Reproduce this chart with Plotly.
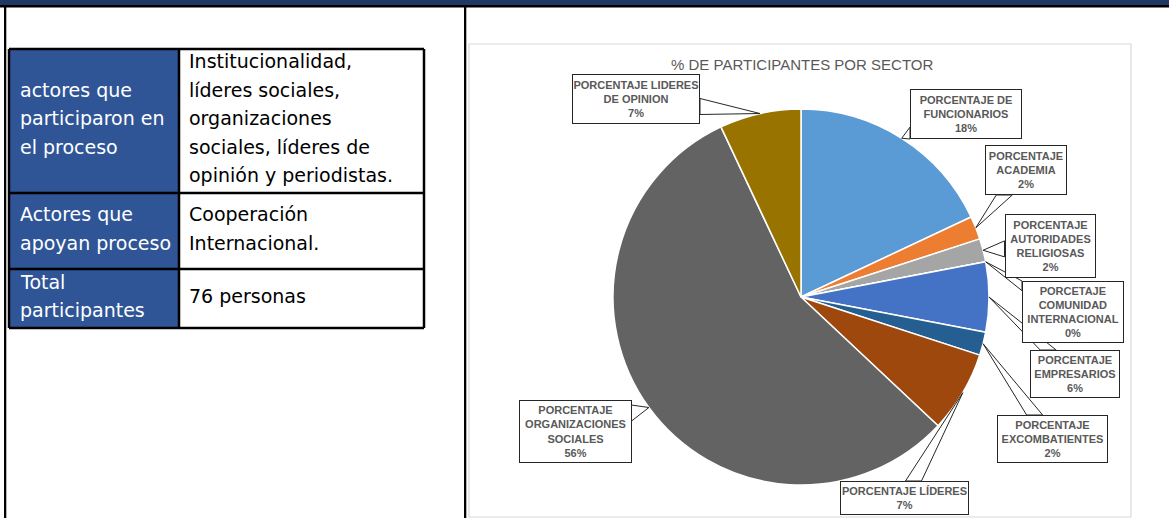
import math
import plotly.graph_objects as go

W, H = 1169, 518

# ---------------- data ----------------
sector_labels = [
    ["PORCENTAJE DE", "FUNCIONARIOS"],
    ["PORCENTAJE", "ACADEMIA"],
    ["PORCENTAJE", "AUTORIDADES", "RELIGIOSAS"],
    ["PORCETAJE", "COMUNIDAD", "INTERNACIONAL"],
    ["PORCENTAJE", "EMPRESARIOS"],
    ["PORCENTAJE", "EXCOMBATIENTES"],
    ["PORCENTAJE LÍDERES"],
    ["PORCENTAJE", "ORGANIZACIONES", "SOCIALES"],
    ["PORCENTAJE LIDERES", "DE OPINION"],
]
sector_values = [18, 2, 2, 0, 6, 2, 7, 56, 7]
chart_title = "% DE PARTICIPANTES POR SECTOR"

table_left = [
    ["actores que", "participaron en", "el proceso"],
    ["Actores que", "apoyan proceso"],
    ["Total", "participantes"],
]
table_right = [
    ["Institucionalidad,", "líderes sociales,", "organizaciones", "sociales, líderes de", "opinión y periodistas."],
    ["Cooperación", "Internacional."],
    ["76 personas"],
]

# ---------------- styles / layout ----------------
slice_colors = ["#5B9BD5", "#ED7D31", "#A5A5A5", "#FFC000", "#4472C4",
                "#255E91", "#9E480E", "#636363", "#997300"]
# callout boxes: center x, center y, width, height (pixels)
box_geom = [
    (966, 114, 112, 50),
    (1026, 170, 82, 50),
    (1050, 246, 91, 64),
    (1073, 312, 102, 62),
    (1075, 374, 90, 48),
    (1052, 439, 111, 48),
    (904, 498, 129, 34),
    (575, 431, 113, 63),
    (636, 99, 128, 50),
]
CX, CY, R = 801, 297, 188

def px(x):
    return x / W

def py(y):
    return 1 - y / H

LABEL_FONT = "Liberation Sans Narrow, Arial Narrow, Liberation Sans, sans-serif"
TABLE_FONT = "DejaVu Sans, Verdana, sans-serif"

fig = go.Figure()
fig.add_trace(go.Pie(
    values=sector_values,
    labels=[" ".join(l) for l in sector_labels],
    marker=dict(colors=slice_colors, line=dict(color="white", width=1.5)),
    sort=False, direction="clockwise", rotation=0,
    textinfo="none", showlegend=False,
    domain=dict(x=[px(CX - R), px(CX + R)], y=[py(CY + R), py(CY - R)]),
))

shapes = []
annotations = []

# page frame
shapes.append(dict(type="rect", xref="paper", yref="paper", x0=0, x1=1, y0=py(0), y1=py(5),
                   fillcolor="#1F3864", line=dict(width=0), layer="below"))
shapes.append(dict(type="rect", xref="paper", yref="paper", x0=0, x1=1, y0=py(5), y1=py(7.5),
                   fillcolor="black", line=dict(width=0), layer="below"))
for xl in (4, 464):
    shapes.append(dict(type="rect", xref="paper", yref="paper", x0=px(xl), x1=px(xl + 2.3),
                       y0=0, y1=py(5), fillcolor="black", line=dict(width=0), layer="below"))
# chart frame
shapes.append(dict(type="rect", xref="paper", yref="paper", x0=px(469), x1=px(1131),
                   y0=py(517), y1=py(44), fillcolor="white",
                   line=dict(color="#D9D9D9", width=1.2), layer="below"))

# table
TX0, TX1, TXM = 9, 424, 179
row_edges = [49, 193, 269, 328]
shapes.append(dict(type="rect", xref="paper", yref="paper", x0=px(TX0), x1=px(TXM),
                   y0=py(row_edges[-1]), y1=py(row_edges[0]), fillcolor="#2F5597",
                   line=dict(width=0), layer="above"))
for ye in row_edges:
    shapes.append(dict(type="line", xref="paper", yref="paper", x0=px(TX0), x1=px(TX1),
                       y0=py(ye), y1=py(ye), line=dict(color="black", width=2.5), layer="above"))
for xe in (TX0, TXM, TX1):
    shapes.append(dict(type="line", xref="paper", yref="paper", x0=px(xe), x1=px(xe),
                       y0=py(row_edges[0]), y1=py(row_edges[-1]),
                       line=dict(color="black", width=2.5), layer="above"))

left_line_y = [[90, 118, 147], [214, 243], [282, 310]]
right_line_y = [[61, 90, 118, 147, 175], [214, 243], [296]]
for r in range(3):
    for txt, yy in zip(table_left[r], left_line_y[r]):
        annotations.append(dict(x=px(18), y=py(yy), xref="paper", yref="paper", text=txt,
                                showarrow=False, xanchor="left", yanchor="middle",
                                font=dict(family=TABLE_FONT, size=19, color="white")))
    for txt, yy in zip(table_right[r], right_line_y[r]):
        annotations.append(dict(x=px(187), y=py(yy), xref="paper", yref="paper", text=txt,
                                showarrow=False, xanchor="left", yanchor="middle",
                                font=dict(family=TABLE_FONT, size=19, color="black")))

# chart title
annotations.append(dict(x=px(802), y=py(65), xref="paper", yref="paper", text=chart_title,
                        showarrow=False, xanchor="center", yanchor="middle",
                        font=dict(family=LABEL_FONT, size=15, color="#595959")))

# callouts
total = sum(sector_values)
cum = 0.0
for i, v in enumerate(sector_values):
    mid = (cum + v / 2) / total
    cum += v
    th = 2 * math.pi * mid
    tx = CX + R * math.sin(th)
    ty = CY - R * math.cos(th)
    bx, by, bw, bh = box_geom[i]
    dx, dy = tx - bx, ty - by
    hw, hh = bw / 2, bh / 2
    tv = hw / abs(dx) if dx != 0 else 1e9
    th_ = hh / abs(dy) if dy != 0 else 1e9
    k = 8
    if tv < th_:
        ex, ey = bx + tv * dx, by + tv * dy
        ey1 = max(by - hh, min(by + hh, ey - k))
        ey2 = max(by - hh, min(by + hh, ey + k))
        b1, b2 = (ex, ey1), (ex, ey2)
    else:
        ex, ey = bx + th_ * dx, by + th_ * dy
        ex1 = max(bx - hw, min(bx + hw, ex - k))
        ex2 = max(bx - hw, min(bx + hw, ex + k))
        b1, b2 = (ex1, ey), (ex2, ey)
    path = "M {:.5f} {:.5f} L {:.5f} {:.5f} L {:.5f} {:.5f} Z".format(
        px(b1[0]), py(b1[1]), px(tx), py(ty), px(b2[0]), py(b2[1]))
    shapes.append(dict(type="path", xref="paper", yref="paper", path=path,
                       fillcolor="white", line=dict(color="#262626", width=1), layer="above"))
    text = "<br>".join(sector_labels[i] + ["{:.0f}%".format(100 * v / total)])
    annotations.append(dict(x=px(bx), y=py(by), xref="paper", yref="paper", text="<b>" + text + "</b>",
                            showarrow=False, xanchor="center", yanchor="middle",
                            width=bw - 2, height=bh - 2, align="center", valign="middle",
                            bgcolor="white", bordercolor="#262626", borderwidth=1, borderpad=0,
                            font=dict(family=LABEL_FONT, size=11, color="#595959")))

fig.update_layout(
    width=W, height=H, margin=dict(l=0, r=0, t=0, b=0),
    paper_bgcolor="white", plot_bgcolor="white",
    shapes=shapes, annotations=annotations, showlegend=False,
)
fig.write_html(
    "out.html",
    config={"displayModeBar": False},
    post_script="document.body.style.margin='0';document.body.style.padding='0';"
                "document.body.style.overflow='hidden';",
)
